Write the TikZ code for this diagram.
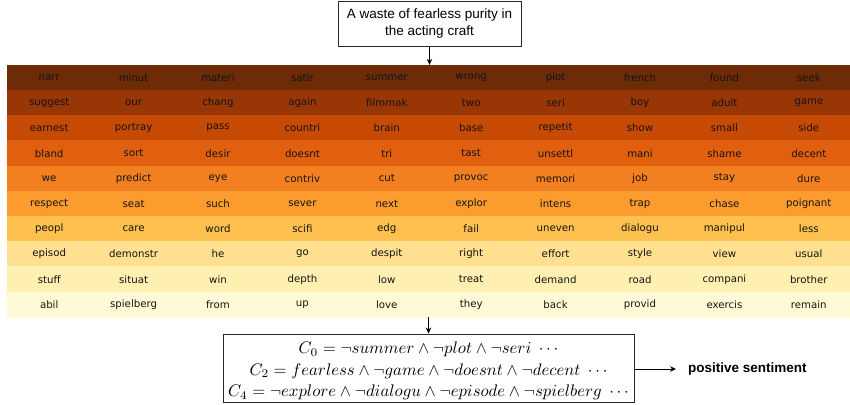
\documentclass[tikz,border=0pt]{standalone}
\usepackage{fontspec}
\setmainfont{Liberation Sans}
\newfontfamily\gridfont{DejaVu Sans}
\usetikzlibrary{arrows.meta}
\definecolor{row0}{HTML}{6E2B07}
\definecolor{row1}{HTML}{983605}
\definecolor{row2}{HTML}{C64A03}
\definecolor{row3}{HTML}{E0600F}
\definecolor{row4}{HTML}{F38020}
\definecolor{row5}{HTML}{FD9C2E}
\definecolor{row6}{HTML}{FEC04E}
\definecolor{row7}{HTML}{FEE090}
\definecolor{row8}{HTML}{FFF0B2}
\definecolor{row9}{HTML}{FFFAD6}
\definecolor{celltext}{HTML}{141414}
\newlength{\clauselen}
\newcommand{\clauseA}{$C_0 = \neg summer \wedge \neg plot \wedge \neg seri\ \cdots$}
\newcommand{\clauseB}{$C_2 = fearless \wedge \neg game \wedge \neg doesnt \wedge \neg decent\ \cdots$}
\newcommand{\clauseC}{$C_4 = \neg explore \wedge \neg dialogu \wedge \neg episode \wedge \neg spielberg\ \cdots$}
\begin{document}
\begin{tikzpicture}[x=1pt,y=-1pt,
  cell/.style={rectangle, minimum width=84.4pt, minimum height=25.2pt, inner sep=0pt,
    font=\gridfont\fontsize{10.2}{12}\selectfont, text=celltext},
  box/.style={rectangle, draw=black!85, line width=0.9pt, align=center, inner sep=0pt},
  conn/.style={-{Stealth[length=6pt,width=5.5pt]}, line width=0.9pt, black}]
\useasboundingbox (0,0) rectangle (850,404);
\settowidth{\clauselen}{\fontsize{10}{12}\selectfont\clauseC}
\pgfmathsetmacro{\clausescale}{396/\clauselen}

\foreach \row [count=\r from 0] in {
  {narr,minut,materi,satir,summer,wrong,plot,french,found,seek},
  {suggest,our,chang,again,filmmak,two,seri,boy,adult,game},
  {earnest,portray,pass,countri,brain,base,repetit,show,small,side},
  {bland,sort,desir,doesnt,tri,tast,unsettl,mani,shame,decent},
  {we,predict,eye,contriv,cut,provoc,memori,job,stay,dure},
  {respect,seat,such,sever,next,explor,intens,trap,chase,poignant},
  {peopl,care,word,scifi,edg,fail,uneven,dialogu,manipul,less},
  {episod,demonstr,he,go,despit,right,effort,style,view,usual},
  {stuff,situat,win,depth,low,treat,demand,road,compani,brother},
  {abil,spielberg,from,up,love,they,back,provid,exercis,remain}} {
  \foreach \w [count=\c from 0] in \row {
    \node[cell, fill=row\r, draw=row\r, line width=0.3pt] (cell-\r-\c)
      at ({49.2+\c*84.4},{77.6+\r*25.2}) {\w};
  }
}

\node[box, minimum width=183pt, minimum height=45pt,
  font=\fontsize{13.5}{16.5}\selectfont] (top) at (429.5,23.5)
  {A waste of fearless purity in\\the acting craft};

\node[box, minimum width=411pt, minimum height=68pt] (bottom) at (428.5,368) {};
\node[align=center, inner sep=0pt, font=\fontsize{10}{21.5}\selectfont]
  (clauses) at ([yshift=-3pt]bottom.center)
  {\scalebox{\clausescale}{\clauseA}\\
   \scalebox{\clausescale}{\clauseB}\\
   \scalebox{\clausescale}{\clauseC}};

\node[anchor=west, inner sep=0pt, font=\bfseries\fontsize{13.5}{16}\selectfont]
  (out) at (688,369) {positive sentiment};

\draw[conn] (top.south) -- (top.south |- cell-0-0.north);
\draw[conn] (bottom.north |- cell-9-0.south) -- (bottom.north);
\draw[conn] (bottom.east |- out.west) -- ([xshift=-12pt]out.west);
\end{tikzpicture}
\end{document}
